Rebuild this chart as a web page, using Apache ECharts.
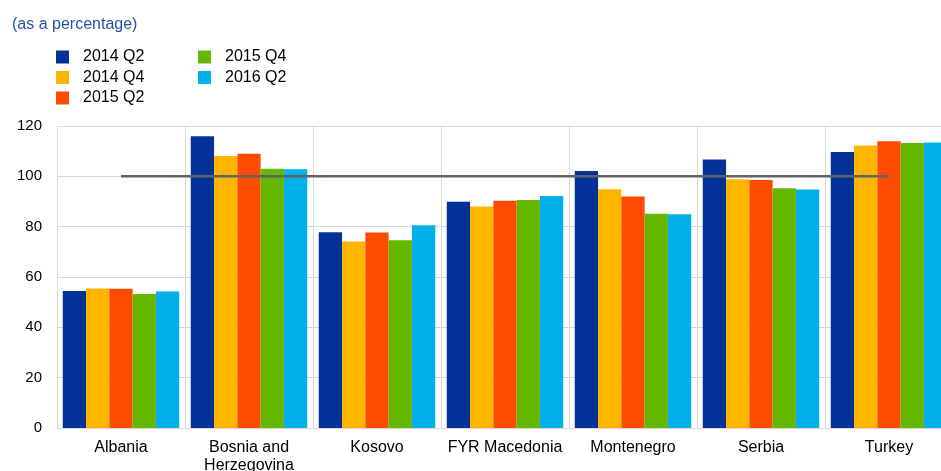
<!DOCTYPE html>
<html>
<head>
<meta charset="utf-8">
<script src="https://cdn.jsdelivr.net/npm/echarts@6/dist/echarts.min.js"></script>
<style>
html,body{margin:0;padding:0;background:#fff;}
#c{width:941px;height:471px;}
</style>
</head>
<body>
<div id="c"></div>
<script>
const categories = ['Albania', 'Bosnia and\nHerzegovina', 'Kosovo', 'FYR Macedonia', 'Montenegro', 'Serbia', 'Turkey'];
const seriesNames = ['2014 Q2', '2014 Q4', '2015 Q2', '2015 Q4', '2016 Q2'];
const s2014Q2 = [54.4, 115.9, 77.8, 89.9, 102.1, 106.7, 109.7];
const s2014Q4 = [55.4, 108.1, 74.1, 88.0, 94.9, 98.8, 112.3];
const s2015Q2 = [55.3, 109.0, 77.7, 90.3, 92.0, 98.5, 113.9];
const s2015Q4 = [53.2, 103.0, 74.6, 90.6, 85.1, 95.3, 113.2];
const s2016Q2 = [54.2, 102.8, 80.6, 92.2, 84.9, 94.8, 113.4];
const reference = [100, 100, 100, 100, 100, 100, 100];
const yTicks = [0, 20, 40, 60, 80, 100, 120];

const colors = ['#003299', '#FFB400', '#FF4B00', '#65B800', '#00B1EA'];
const values = [s2014Q2, s2014Q4, s2015Q2, s2015Q4, s2016Q2];

const chart = echarts.init(document.getElementById('c'), null, {renderer: 'canvas'});
const font = 'Liberation Sans, Arial, sans-serif';
const legendCommon = {
  orient: 'vertical',
  itemWidth: 13,
  itemHeight: 13,
  itemGap: 4.5,
  icon: 'rect',
  padding: 0,
  textStyle: {fontFamily: font, fontSize: 16, lineHeight: 16, color: '#000', padding: [0, 0, 0, 9]},
  selectedMode: false
};
const option = {
  animation: false,
  title: {
    text: '(as a percentage)',
    left: 12,
    top: 17,
    padding: 0,
    textStyle: {fontFamily: font, fontSize: 16, fontWeight: 'normal', color: '#2a4fa3'}
  },
  legend: [
    Object.assign({left: 56, top: 49, data: seriesNames.slice(0, 3)}, legendCommon),
    Object.assign({left: 198, top: 49, data: seriesNames.slice(3)}, legendCommon)
  ],
  grid: {left: 57, width: 896, top: 126, height: 302, outerBoundsMode: 'none', containLabel: false},
  xAxis: {
    type: 'category',
    data: categories,
    axisLine: {show: true, lineStyle: {color: '#d9d9d9'}},
    axisTick: {show: false},
    splitLine: {show: true, lineStyle: {color: '#d9d9d9', width: 1}},
    axisLabel: {fontFamily: font, fontSize: 16, color: '#000', margin: 11, lineHeight: 18, interval: 0}
  },
  yAxis: {
    type: 'value',
    min: yTicks[0],
    max: yTicks[yTicks.length - 1],
    interval: 20,
    axisLine: {show: true, lineStyle: {color: '#d9d9d9'}},
    axisTick: {show: false},
    splitLine: {show: true, lineStyle: {color: '#d9d9d9', width: 1}},
    axisLabel: {fontFamily: font, fontSize: 15, color: '#000', margin: 15}
  },
  series: seriesNames.map((n, i) => ({
    name: n,
    type: 'bar',
    data: values[i],
    barGap: '0%',
    barCategoryGap: '9%',
    itemStyle: {color: colors[i]},
    z: 2
  })).concat([{
    name: 'ref',
    type: 'line',
    data: reference,
    symbol: 'none',
    lineStyle: {color: '#636363', width: 2.5},
    z: 5
  }])
};
chart.setOption(option);
</script>
</body>
</html>
